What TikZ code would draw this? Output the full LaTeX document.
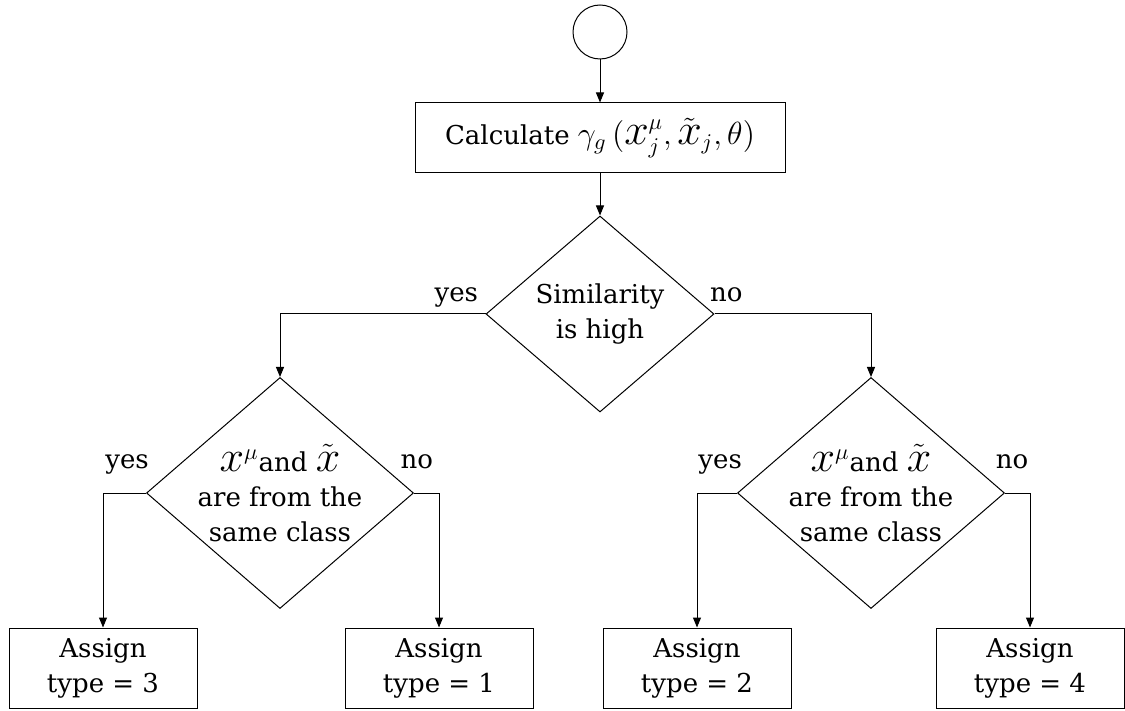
\RequirePackage{fix-cm}
\documentclass[tikz,border=0pt]{standalone}
\usepackage{amsmath}
\usepackage{fontspec}
\setmainfont{DejaVu Serif}
\usetikzlibrary{positioning,arrows.meta,shapes.geometric}

\newcommand{\bigx}{\mbox{\fontsize{22}{22}\selectfont$x$}}
\newcommand{\mathsz}{\fontsize{16}{17.5}\selectfont}

\begin{document}
\begin{tikzpicture}[
    x=0.5pt,y=-0.5pt,
    line width=0.5pt,
    every node/.style={font=\fontsize{13}{17.5}\selectfont},
    box/.style={draw,inner sep=0pt,minimum width=94pt,minimum height=40pt,align=center},
    decision/.style={draw,diamond,inner sep=-10pt,align=center},
    lbl/.style={anchor=base,inner sep=0pt},
    >={Triangle[length=5pt,width=4pt]}
]

\useasboundingbox (0,0) rectangle (1125,711);

\node[draw,circle,minimum size=27pt,inner sep=0pt] (s) at (600,32) {};

\node (calc) [box,minimum width=185pt,minimum height=35pt,below=21.5pt of s]
    {Calculate {\mathsz$\gamma_{g}\,(\bigx^{\mu}_{j},\tilde{\bigx}_{j},\theta)$}};

\node (d1) [decision,minimum width=114pt,minimum height=98pt,below=21pt of calc]
    {Similarity\\is high};

\node (d2) [decision,minimum width=133.5pt,minimum height=115.5pt] at (280,493)
    {{\mathsz$\bigx^{\mu}$}and {\mathsz$\tilde{\bigx}$}\\are from the\\same class};
\node (d3) [decision,minimum width=133.5pt,minimum height=115.5pt] at (871,493)
    {{\mathsz$\bigx^{\mu}$}and {\mathsz$\tilde{\bigx}$}\\are from the\\same class};

\node (a3) [box] at (103,668) {Assign\\type = 3};
\node (a1) [box] at (439,668) {Assign\\type = 1};
\node (a2) [box] at (697,668) {Assign\\type = 2};
\node (a4) [box] at (1030,668) {Assign\\type = 4};

\draw[->] (s) -- (calc);
\draw[->] (calc) -- (d1);

\draw[->] (d1.west) -| node[lbl,pos=0.071,yshift=6pt] {yes} (d2.north);
\draw[->] (d1.east) -| node[lbl,pos=0.038,yshift=6pt] {no} (d3.north);

\draw[->] (d2.west) -| node[lbl,pos=0.22,yshift=12.5pt] {yes} (a3.north);
\draw[->] (d2.east) -| node[lbl,pos=0.058,yshift=12.5pt] {no} (a1.north);

\draw[->] (d3.west) -| node[lbl,pos=0.21,yshift=12.5pt] {yes} (a2.north);
\draw[->] (d3.east) -| node[lbl,pos=0.14,yshift=12.5pt] {no} (a4.north);

\end{tikzpicture}
\end{document}
